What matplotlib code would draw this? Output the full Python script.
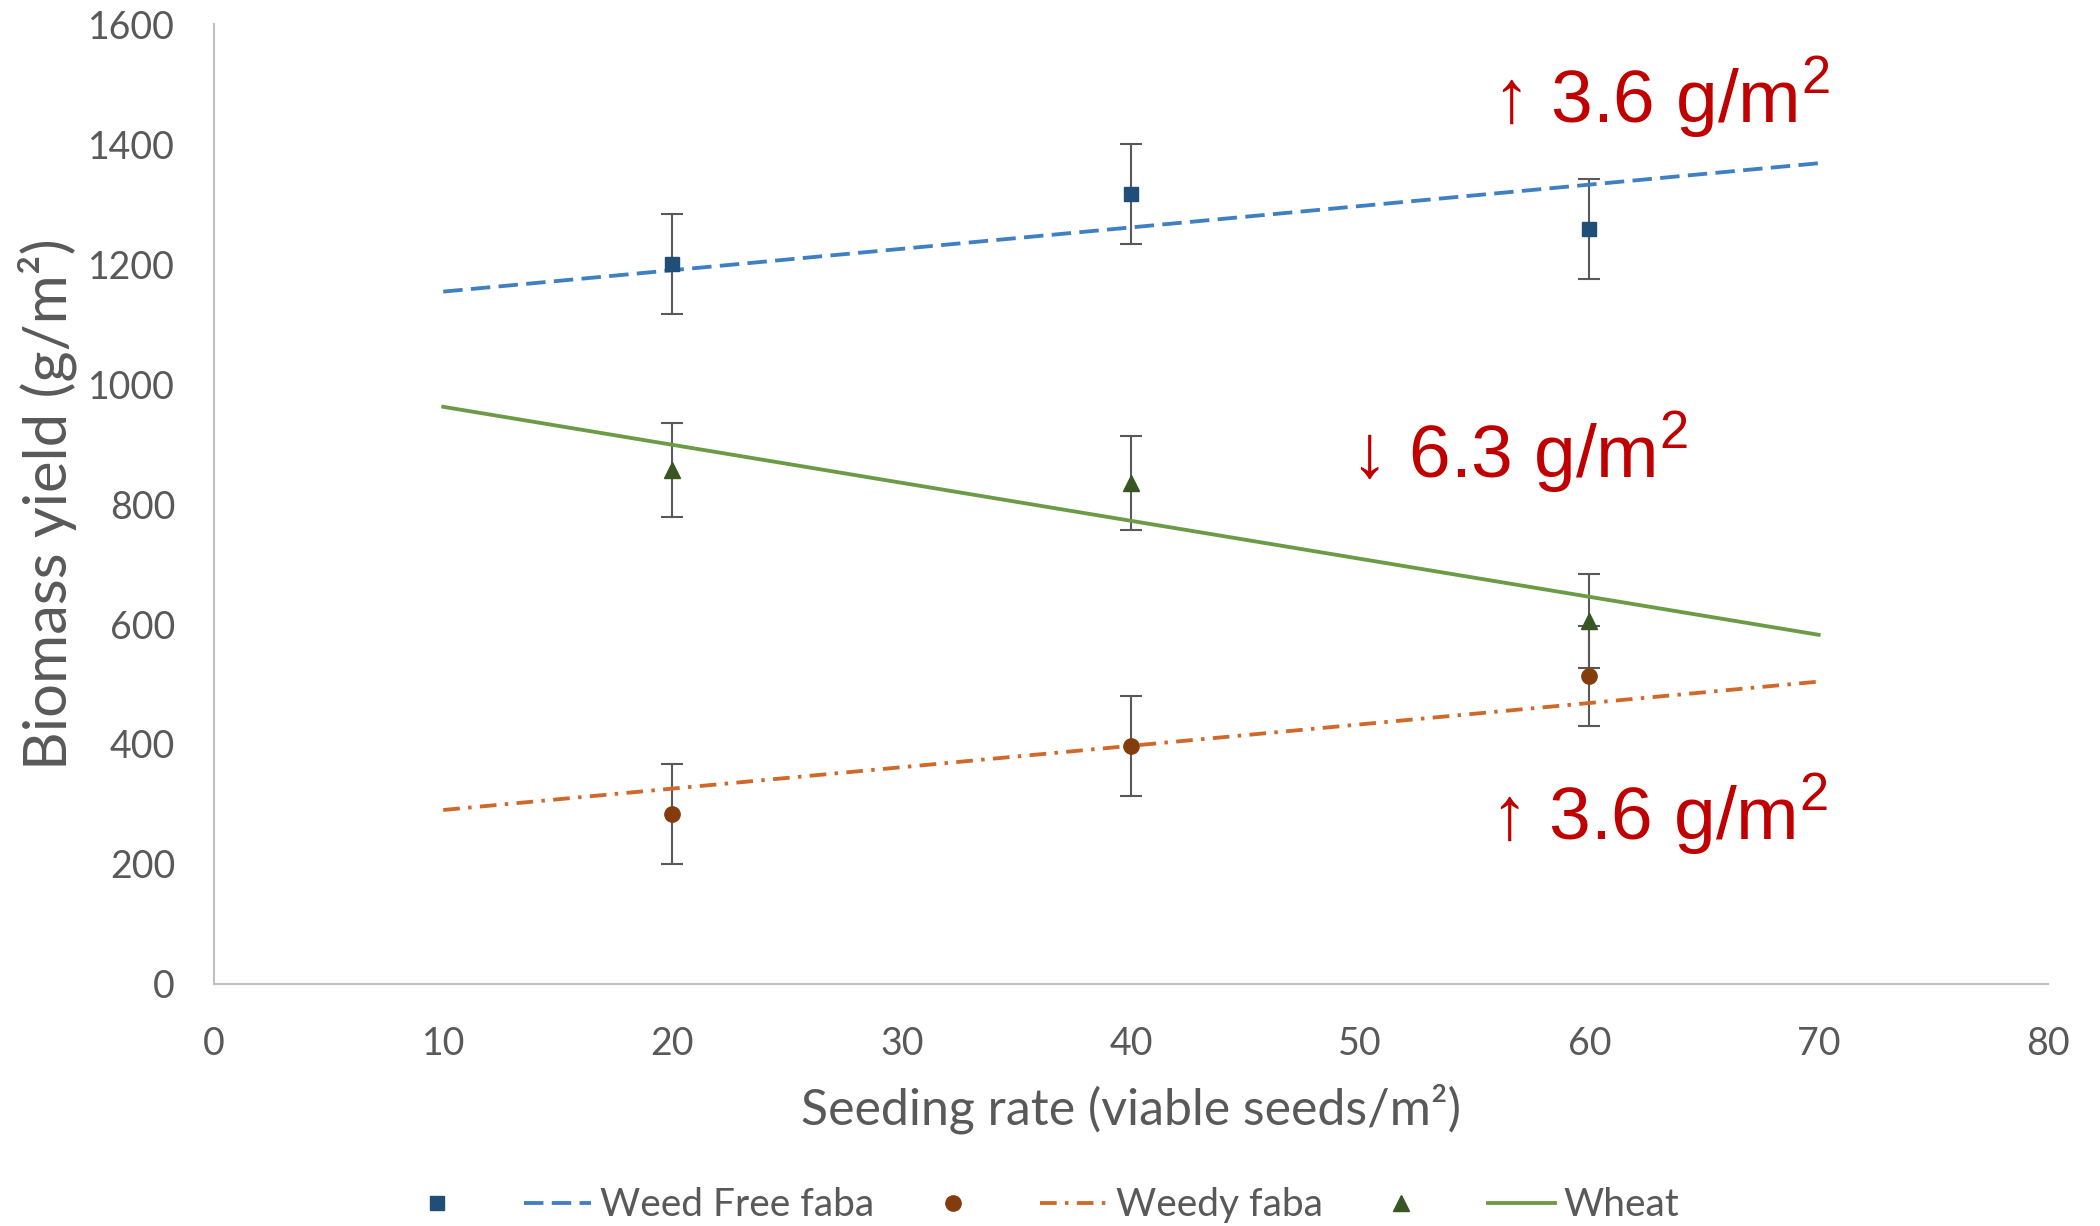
import matplotlib
matplotlib.use("Agg")
import matplotlib.pyplot as plt

plt.rcParams['font.family'] = ['Lato', 'DejaVu Sans']
plt.rcParams['mathtext.fontset'] = 'custom'
plt.rcParams['mathtext.rm'] = 'Liberation Sans'
plt.rcParams['lines.scale_dashes'] = False

# data
rates = [20, 40, 60]
weed_free = [1200, 1317, 1258]
weed_free_err = [83, 83, 83]
weedy = [283, 397, 513]
weedy_err = [83, 83, 83]
wheat = [857, 835, 605]
wheat_err = [78, 78, 78]

trend_x = [10, 70]
weed_free_trend = [1154, 1368]
weedy_trend = [290, 504]
wheat_trend = [962, 582]

labels = ["Weed Free faba", "Weedy faba", "Wheat"]
notes = ["\u2191 3.6 g/m$^2$", "\u2193 6.3 g/m$^2$", "\u2191 3.6 g/m$^2$"]

grey = "#595959"
red = "#C00000"

fig = plt.figure(figsize=(21, 12.26), dpi=100)
ax = fig.add_axes([0.1019, 0.1974, 0.8733, 0.783])

series = [
    (weed_free, weed_free_err, weed_free_trend, "s", "#1F4E79", "#3F80C2", (14, 6), 10.5),
    (weedy, weedy_err, weedy_trend, "o", "#843C0C", "#D0682A", (12, 6, 2.5, 6), 11),
    (wheat, wheat_err, wheat_trend, "^", "#375623", "#6B9B45", None, 12),
]

handles = []
for (vals, err, trend, mk, mcol, lcol, dash, ms), lab in zip(series, labels):
    ax.errorbar(rates, vals, yerr=err, fmt="none", ecolor=grey, elinewidth=1.5,
                capsize=8, capthick=1.5, zorder=2)
    if dash is None:
        ln, = ax.plot(trend_x, trend, color=lcol, lw=2.75, zorder=3)
    else:
        ln, = ax.plot(trend_x, trend, color=lcol, lw=2.75, dashes=dash,
                      dash_capstyle="butt", zorder=3)
    pt, = ax.plot(rates, vals, mk, color=mcol, ms=ms, mec=mcol, zorder=4)
    handles += [pt, ln]

ax.set_xlim(0, 80)
ax.set_ylim(0, 1600)
ax.set_xticks(range(0, 81, 10))
ax.set_yticks(range(0, 1601, 200))
ax.tick_params(length=0, labelsize=27, labelcolor=grey)
ax.tick_params(axis="x", pad=30)
ax.tick_params(axis="y", pad=28)
for s in ["top", "right"]:
    ax.spines[s].set_visible(False)
for s in ["left", "bottom"]:
    ax.spines[s].set_color("#BFBFBF")
    ax.spines[s].set_linewidth(1.5)

ax.set_ylabel("Biomass yield (g/m\u00b2)", fontsize=43, color=grey, va="center")
ax.yaxis.set_label_coords(-0.091, 0.5)
ax.set_xlabel("Seeding rate (viable seeds/m\u00b2)", fontsize=36, color=grey, va="center")
ax.xaxis.set_label_coords(0.5, -0.130)

note_pos = [(0.697, 0.897), (0.6195, 0.527), (0.696, 0.150)]
for txt, (x, y) in zip(notes, note_pos):
    ax.text(x, y, txt, transform=ax.transAxes, fontsize=54, color=red,
            family="Liberation Sans", ha="left", va="baseline")

leg_labels = ["", labels[0], "", labels[1], "", labels[2]]
fig.legend(handles, leg_labels, loc="center", bbox_to_anchor=(0.496, 0.017), ncol=6,
           frameon=False, fontsize=28, labelcolor=grey, handlelength=1.72,
           handletextpad=0.23, columnspacing=1.15)

fig.savefig("out.png", dpi=100)
